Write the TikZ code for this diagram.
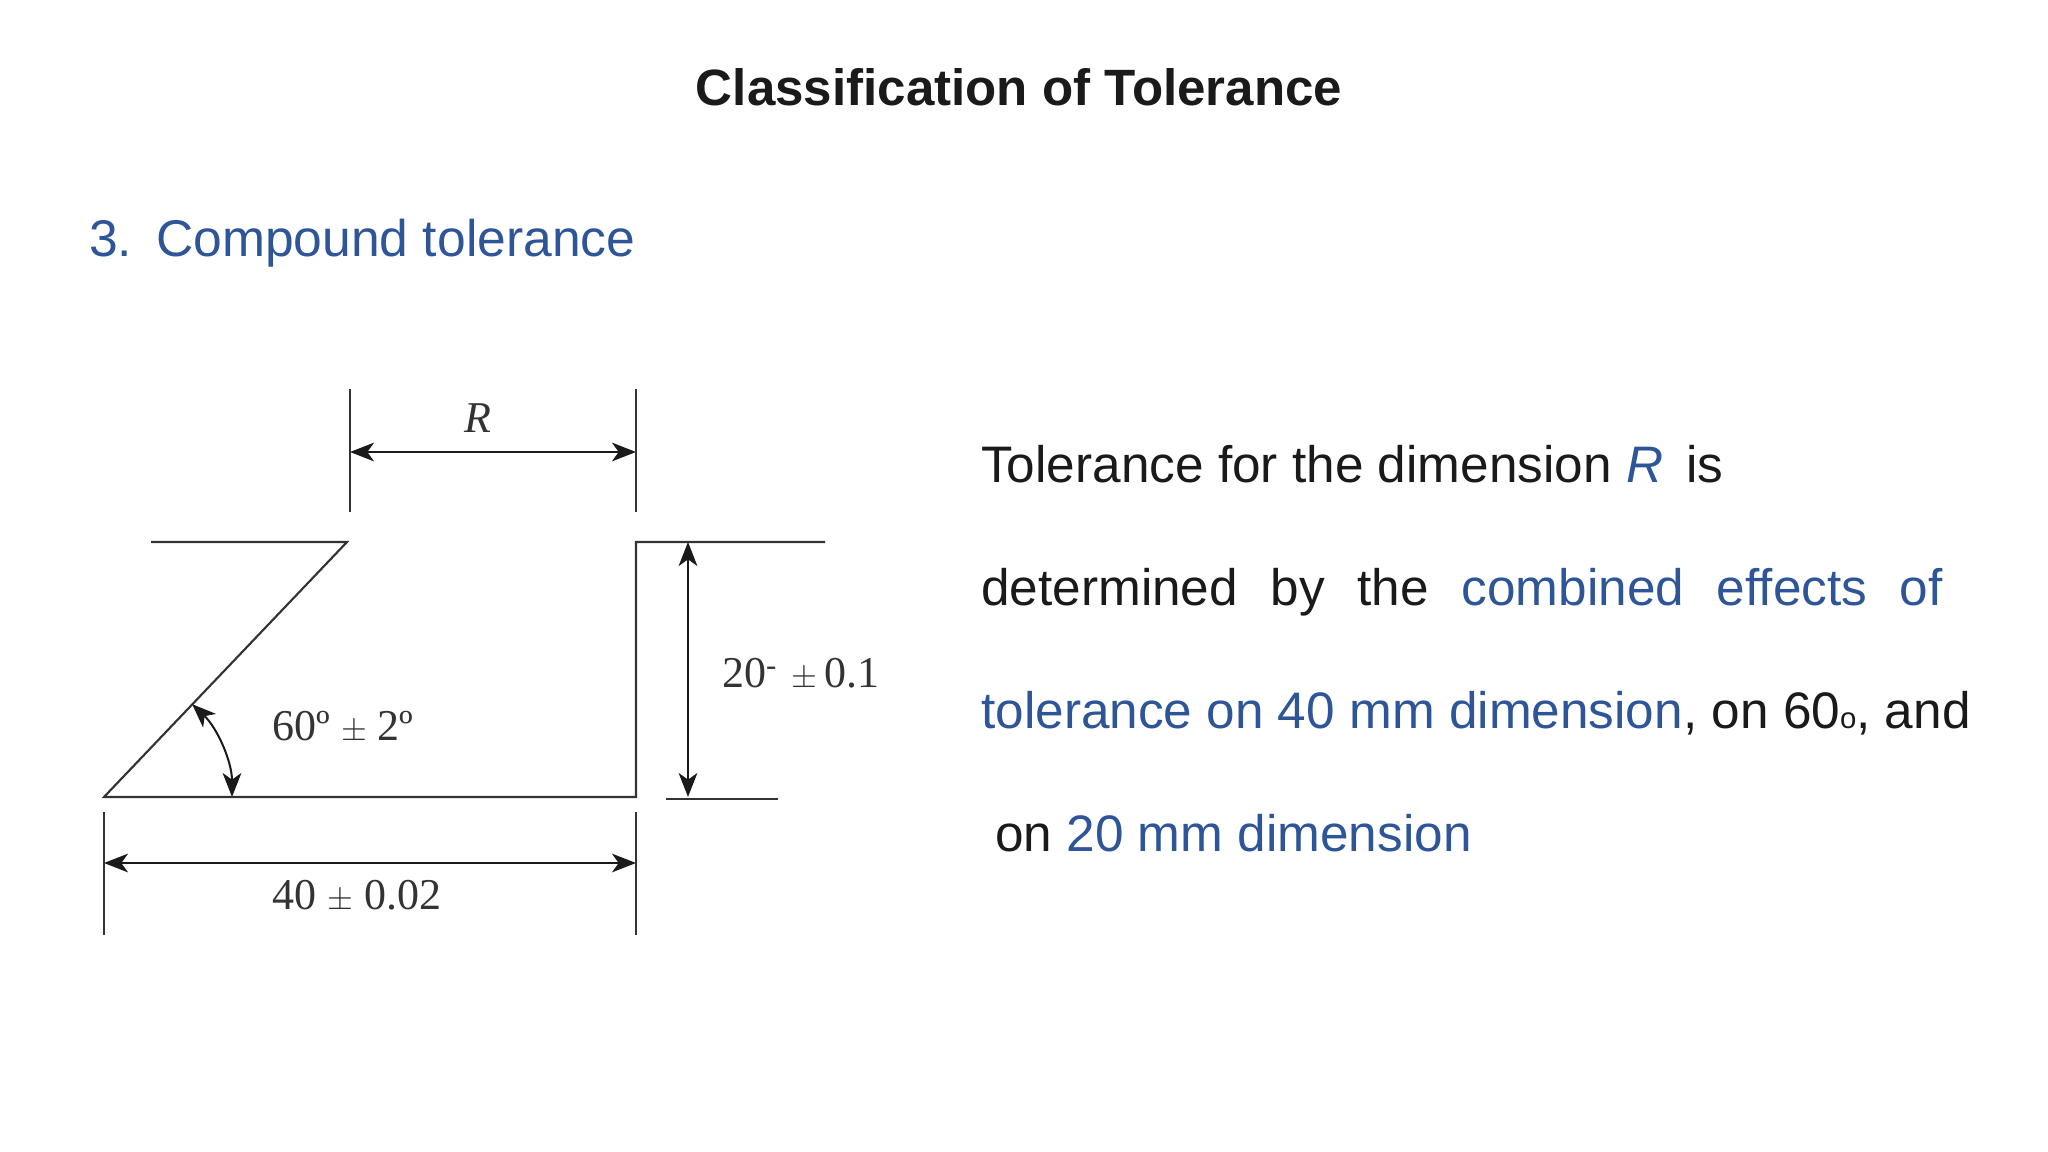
\documentclass[tikz,border=0pt]{standalone}
\usepackage{fontspec}
\setmainfont{Liberation Sans}
\newfontfamily\drawfont{Liberation Serif}
\usetikzlibrary{arrows.meta}
\definecolor{hblue}{HTML}{2E5597}
\definecolor{ink}{HTML}{1A1A1A}
\definecolor{lin}{HTML}{333333}
\tikzset{
  geo/.style={draw=lin,line width=1.6pt},
  dim/.style={draw=ink,line width=1.5pt,{Stealth[length=18pt,width=14pt,inset=5pt]}-{Stealth[length=18pt,width=14pt,inset=5pt]}},
  lbl/.style={font=\drawfont\fontsize{33}{33}\selectfont,text=lin,inner sep=0pt},
  body/.style={font=\fontsize{38.5}{38.5}\selectfont,text=ink,inner sep=0pt,anchor=base west}
}
\begin{document}
\begin{tikzpicture}[x=0.75pt,y=-0.75pt]
\useasboundingbox (0,0) rectangle (2048,1152);
\node[font=\bfseries\fontsize{38.3}{38.3}\selectfont,text=ink] (title) at (1019,87) {Classification of Tolerance};
\node[anchor=west,font=\fontsize{38.7}{38.7}\selectfont,text=hblue,inner sep=0pt] (head) at (89,243) {3.\hspace{18pt}Compound tolerance};
% geometry
\coordinate (tl) at (151,542); \coordinate (ts) at (347,542);
\coordinate (bl) at (104,797); \coordinate (br) at (636,797);
\coordinate (tr) at (636,542); \coordinate (tre) at (825,542);
\draw[geo] (tl) -- (ts) -- (bl) -- (br) -- (tr) -- (tre);
% R dimension
\coordinate (r1a) at (350,389); \coordinate (r1b) at (350,512);
\coordinate (r2a) at (636,389); \coordinate (r2b) at (636,512);
\draw[geo,line width=1.4pt] (r1a) -- (r1b) (r2a) -- (r2b);
\coordinate (ra) at (350,452); \coordinate (rb) at (636,452);
\draw[dim] (ra) -- (rb);
\node[lbl] (R) at (478,418) {\itshape R};
% 20 dimension
\coordinate (hb1) at (666,799); \coordinate (hb2) at (778,799);
\draw[geo,line width=1.4pt] (hb1) -- (hb2);
\coordinate (ha) at (688,542); \coordinate (hb) at (688,797);
\draw[dim] (ha) -- (hb);
\node[lbl] (twenty) at (801,674) {20\textsuperscript{-}\,\,$\pm$\,0.1};
% 40 dimension
\coordinate (e1a) at (104,812); \coordinate (e1b) at (104,935);
\coordinate (e2a) at (636,812); \coordinate (e2b) at (636,935);
\draw[geo,line width=1.4pt] (e1a) -- (e1b) (e2a) -- (e2b);
\coordinate (la) at (104,863); \coordinate (lb) at (636,863);
\draw[dim] (la) -- (lb);
\node[lbl] (forty) at (357,896) {40 $\pm$ 0.02};
% angle
\coordinate (a0) at (232,797);
\draw[dim] (a0) arc[start angle=0,end angle=-46.5,radius=128];
\node[lbl] (ang) at (343,727) {60º $\pm$ 2º};
% body text
\node[body] (l1) at (981,482) {Tolerance for the dimension \textcolor{hblue}{\itshape R}\, is};
\node[body] (l2) at (981,605) {\hbox to 721pt{determined\hfill by\hfill the\hfill \textcolor{hblue}{combined}\hfill \textcolor{hblue}{effects}\hfill \textcolor{hblue}{of}}};
\node[body] (l3) at (981,728) {\textcolor{hblue}{tolerance on 40 mm dimension}, on 60\raisebox{0pt}{\fontsize{22}{22}\selectfont o}, and};
\node[body] (l4) at (995,851) {on \textcolor{hblue}{20 mm dimension}};
\end{tikzpicture}
\end{document}
